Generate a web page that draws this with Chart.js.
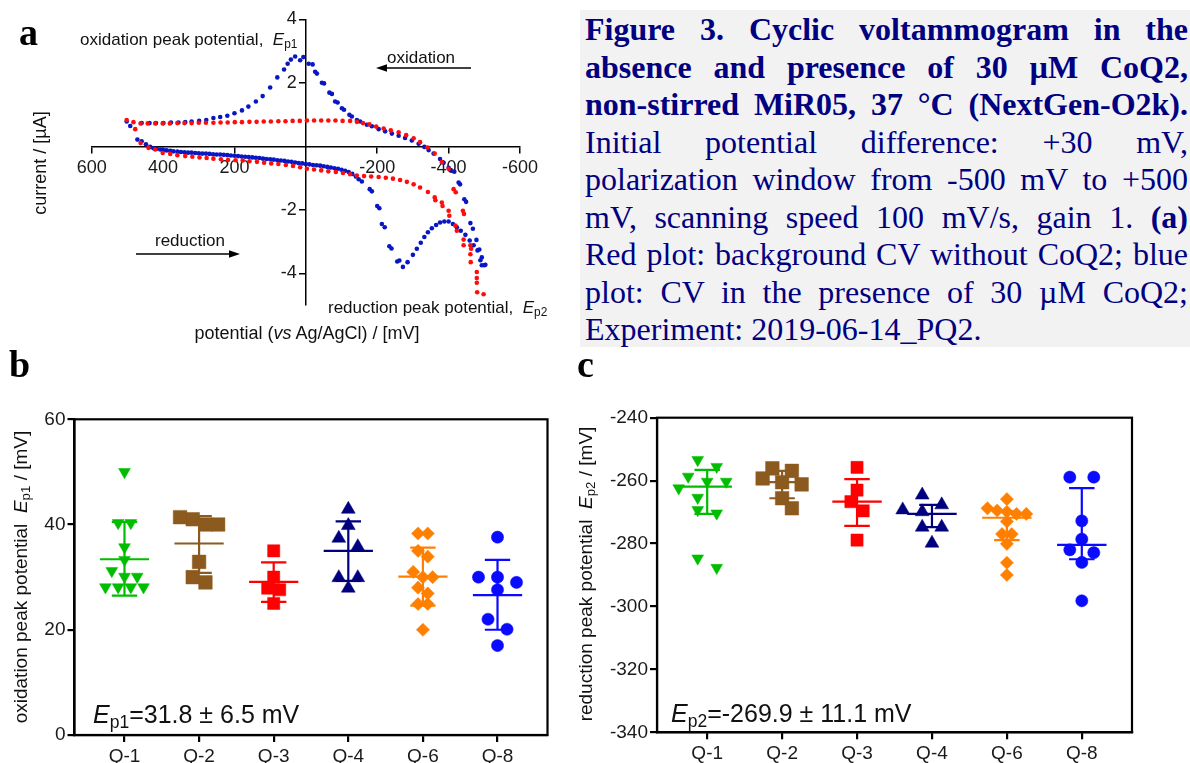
<!DOCTYPE html>
<html><head><meta charset="utf-8">
<script src="https://cdn.jsdelivr.net/npm/chart.js@4.4.0/dist/chart.umd.min.js"></script>
<style>
html,body{margin:0;padding:0;background:#fff;}
body{width:1190px;height:763px;position:relative;overflow:hidden;font-family:"Liberation Sans",Arial,sans-serif;color:#111;}
canvas{position:absolute;}
.t{position:absolute;white-space:nowrap;}
.letter{position:absolute;font-family:"Liberation Serif","DejaVu Serif",serif;font-weight:bold;font-size:38px;line-height:38px;color:#000;}
.rot{position:absolute;white-space:nowrap;transform:translate(-50%,-50%) rotate(-90deg);}
sub{font-size:70%;vertical-align:-0.28em;line-height:0;}
#caption{position:absolute;left:580px;top:10px;width:610px;height:337px;background:#f2f2f2;}
.cl{position:absolute;left:5px;width:603px;height:37.5px;line-height:37.5px;font-family:"Liberation Serif",serif;color:#000080;text-align:justify;text-align-last:justify;}
.cl.last{text-align:left;text-align-last:left;}
</style></head>
<body>
<div id="caption"></div>

<canvas id="cA" width="575" height="345" style="left:0;top:0"></canvas>
<canvas id="cB" width="575" height="418" style="left:0;top:345px"></canvas>
<canvas id="cC" width="615" height="418" style="left:575px;top:345px"></canvas>

<div class="letter" style="left:19px;top:13px">a</div>
<div class="letter" style="left:9px;top:345px">b</div>
<div class="letter" style="left:577px;top:345px">c</div>

<!-- panel a annotations -->
<div class="t" style="left:80px;top:31px;font-size:17px;line-height:17px">oxidation peak potential,&nbsp; <i>E</i><sub>p1</sub></div>
<div class="t" style="left:387px;top:49px;font-size:17px;line-height:17px">oxidation</div>
<div class="t" style="left:155px;top:232px;font-size:17px;line-height:17px">reduction</div>
<div class="t" style="left:328px;top:299px;font-size:17px;line-height:17px">reduction peak potential,&nbsp; <i>E</i><sub>p2</sub></div>
<div class="t" style="left:307px;top:324px;font-size:18px;line-height:18px;transform:translateX(-50%)">potential (<i>vs</i> Ag/AgCl) / [mV]</div>
<div class="rot" style="left:40px;top:163px;font-size:18px;line-height:18px">current / [µA]</div>
<svg style="position:absolute;left:0;top:0" width="575" height="345">
  <line x1="471" y1="68" x2="384" y2="68" stroke="#000" stroke-width="1.5"/>
  <polygon points="376,68 387,64.3 387,71.7" fill="#000"/>
  <line x1="136" y1="254" x2="232" y2="254" stroke="#000" stroke-width="1.5"/>
  <polygon points="240,254 229,250.3 229,257.7" fill="#000"/>
</svg>

<!-- panel b / c texts -->
<div class="rot" style="left:20px;top:577px;font-size:19px;line-height:19px">oxidation peak potential&nbsp; <i>E</i><sub>p1</sub> / [mV]</div>
<div class="rot" style="left:585px;top:574px;font-size:19px;line-height:19px">reduction peak potential&nbsp; <i>E</i><sub>p2</sub> / [mV]</div>
<div class="t" style="left:93px;top:702px;font-size:25px;line-height:25px"><i>E</i><sub>p1</sub>=31.8 ± 6.5 mV</div>
<div class="t" style="left:671px;top:701px;font-size:25px;line-height:25px"><i>E</i><sub>p2</sub>=-269.9 ± 11.1 mV</div>

<script>
// ---------------- data ----------------
const cvRedPotential = [502,483,463,443,422,401,381,360,340,320,300,280,259,239,219,199,179,158,138,118,98,77,57,37,17,-3,-23,-43,-63,-83,-103,-124,-143,-160,-178,-197,-218,-238,-260,-281,-302,-320,-341,-361,-381,-400,-414,-420,-440,-443,-461,-463,-479,-480,-498,
  478,463,441,422,401,380,360,338,318,298,278,259,238,218,197,177,158,137,117,97,77,56,36,16,-3,-23,-43,-63,-84,-104,-124,-143,-163,-183,-204,-224,-244,-264,-283,-302,-320,-342,-361,-363,-381,-383,-400,-402,-419,-423,-442,-442,-461,-462,-479,-479];
const cvRedCurrent = [0.83,0.76,0.72,0.72,0.72,0.72,0.72,0.73,0.73,0.73,0.74,0.74,0.74,0.75,0.75,0.76,0.76,0.77,0.77,0.78,0.78,0.79,0.79,0.80,0.80,0.81,0.81,0.81,0.81,0.81,0.80,0.80,0.77,0.73,0.69,0.62,0.56,0.50,0.44,0.35,0.25,0.13,-0.04,-0.23,-0.50,-0.71,-1.35,-1.45,-2.03,-2.13,-3.12,-3.23,-4.30,-4.60,-4.66,
  0.54,0.10,-0.05,-0.10,-0.21,-0.24,-0.28,-0.31,-0.33,-0.35,-0.37,-0.39,-0.41,-0.43,-0.44,-0.45,-0.47,-0.49,-0.52,-0.54,-0.56,-0.59,-0.62,-0.66,-0.71,-0.73,-0.76,-0.79,-0.81,-0.84,-0.88,-0.92,-0.94,-0.95,-0.97,-0.99,-1.02,-1.06,-1.12,-1.20,-1.30,-1.44,-1.61,-1.70,-1.77,-1.88,-2.03,-2.19,-2.50,-2.66,-2.94,-3.12,-3.40,-3.65,-3.96,-4.15];
const cvBluePotential = [-500,-493,-486,-478,-468,-461,-449,-444,-432,-428,-416,-406,-400,-386,-376,-358,-344,-332,-316,-297,-278,-260,-241,-222,-204,-185,-171,-152,-143,-129,-122,-107,-101,-89,-82,-73,-66,-51,-45,-31,-26,-19,-8,7,16,30,42,51,61,80,100,121,140,161,179,200,220,240,259,279,299,320,338,357,378,399,420,438,460,492,502,
  472,460,448,436,427,418,408,399,390,380,371,360,350,340,330,320,310,300,290,280,270,260,250,240,230,220,210,200,190,180,170,160,150,140,130,120,110,100,90,80,70,60,50,40,30,20,10,0,-10,-20,-30,-40,-50,-60,-70,-80,-90,-100,-110,-120,-130,-140,-148,-157,-179,-185,-200,-206,-213,-221,-234,-240,-256,-262,-272,-285,-300,-311,-322,-332,-342,-353,-365,-376,-388,-400,-412,-423,-434,-447,-459,-470,-481,-489,-493,-503];
const cvBlueCurrent = [-3.75,-3.50,-3.25,-2.95,-2.60,-2.42,-1.75,-1.67,-1.20,-1.14,-0.80,-0.75,-0.68,-0.52,-0.40,-0.23,-0.12,-0.02,0.08,0.18,0.26,0.33,0.40,0.47,0.54,0.63,0.68,0.78,0.83,0.94,0.99,1.15,1.20,1.38,1.41,1.65,1.69,1.98,2.00,2.29,2.35,2.58,2.60,2.81,2.71,2.83,2.73,2.60,2.42,2.17,1.85,1.58,1.41,1.25,1.13,1.04,0.96,0.92,0.89,0.83,0.80,0.78,0.76,0.75,0.75,0.73,0.73,0.73,0.73,0.64,0.78,
  0.21,0.16,0.06,-0.02,-0.06,-0.08,-0.10,-0.12,-0.13,-0.14,-0.16,-0.17,-0.18,-0.19,-0.20,-0.20,-0.21,-0.22,-0.23,-0.23,-0.24,-0.25,-0.26,-0.26,-0.27,-0.28,-0.29,-0.30,-0.31,-0.32,-0.33,-0.34,-0.35,-0.36,-0.37,-0.39,-0.40,-0.41,-0.42,-0.44,-0.45,-0.46,-0.48,-0.49,-0.51,-0.53,-0.54,-0.56,-0.57,-0.59,-0.60,-0.61,-0.63,-0.65,-0.67,-0.69,-0.71,-0.74,-0.77,-0.81,-0.87,-0.95,-1.04,-1.11,-1.35,-1.42,-1.88,-1.95,-2.45,-2.55,-3.15,-3.22,-3.63,-3.60,-3.80,-3.65,-3.42,-3.23,-3.04,-2.86,-2.71,-2.58,-2.48,-2.40,-2.37,-2.37,-2.45,-2.55,-2.66,-2.79,-2.97,-3.12,-3.28,-3.59,-3.75,-3.73];
const cvXTicks = [600,400,200,-200,-400,-600];
const cvYTicks = [4,2,-2,-4];

const groupLabels = ['Q-1','Q-2','Q-3','Q-4','Q-6','Q-8'];
const groupColors = ['#00bd00','#8c5a1e','#ff0000','#00007f','#ff8000','#0a0aff'];

const ep1Q1 = [50.0,40.3,40.3,35.7,33.3,31.2,30.1,30.1,28.1,28.1,28.1,28.1];
const ep1Q2 = [41.4,41.0,40.0,40.0,32.9,30.0,29.0];
const ep1Q3 = [35.0,30.0,27.9,27.6,25.0];
const ep1Q4 = [42.9,39.8,37.4,35.8,29.9,29.9,27.9];
const ep1Q6 = [38.3,38.3,35.0,33.9,31.0,30.0,30.0,28.0,26.9,24.9,24.9,20.0];
const ep1Q8 = [37.6,30.0,30.0,29.0,27.6,22.0,20.1,17.0];
const ep1Center = [33.4,36.4,29.1,35.0,30.1,26.6];
const ep1Low = [26.5,30.8,25.3,29.3,24.6,20.0];
const ep1High = [40.5,41.6,32.8,40.6,35.6,33.3];
const ep1Ticks = [0,20,40,60];

const ep2Q1 = [-253.4,-255.6,-258.7,-260.3,-260.3,-262.4,-265.4,-270.4,-269.3,-284.7,-287.7];
const ep2Q2 = [-256.1,-260.5,-256.9,-261.2,-259.3,-265.6,-268.8];
const ep2Q3 = [-255.8,-263.0,-266.7,-269.6,-278.9];
const ep2Q4 = [-264.6,-267.7,-269.3,-269.9,-274.8,-274.8,-279.9];
const ep2Q6 = [-265.9,-269.9,-268.8,-270.6,-269.5,-270.6,-273.0,-277.0,-277.0,-280.1,-286.1,-290.0];
const ep2Q8 = [-258.9,-258.9,-272.8,-278.6,-282.9,-282.0,-286.0,-298.2];
const ep2Center = [-261.9,-260.5,-266.7,-270.6,-271.8,-280.4];
const ep2Low = [-270.6,-265.6,-274.4,-274.8,-278.9,-285.0];
const ep2High = [-256.6,-256.9,-259.5,-267.7,-269.8,-262.4];
const ep2Ticks = [-340,-320,-300,-280,-260,-240];

const captionLines = [
  '<b>Figure 3. Cyclic voltammogram in the</b>',
  '<b>absence and presence of 30 µM CoQ2,</b>',
  '<b>non-stirred MiR05, 37 °C (NextGen-O2k).</b>',
  'Initial potential difference: +30 mV,',
  'polarization window from -500 mV to +500',
  'mV, scanning speed 100 mV/s, gain 1. <b>(a)</b>',
  'Red plot: background CV without CoQ2; blue',
  'plot: CV in the presence of 30 µM CoQ2;',
  'Experiment: 2019-06-14_PQ2.'
];

// ---------------- caption ----------------
(function(){
  const box = document.getElementById('caption');
  const meas = document.createElement('span');
  meas.style.cssText = 'position:absolute;visibility:hidden;white-space:nowrap;font-family:"Liberation Serif",serif;font-size:30px;';
  document.body.appendChild(meas);
  let scale = Infinity;
  captionLines.forEach((l,i)=>{ if(i===captionLines.length-1) return; meas.innerHTML=l; scale=Math.min(scale, 601/meas.getBoundingClientRect().width); });
  meas.remove();
  const fs = Math.min(32, 30*scale);
  captionLines.forEach((l,i)=>{
    const d = document.createElement('div');
    d.className = 'cl' + (i===captionLines.length-1?' last':'');
    d.style.top = (1.25 + i*37.5) + 'px';
    d.style.fontSize = fs + 'px';
    d.innerHTML = l;
    box.appendChild(d);
  });
})();

// ---------------- charts ----------------
Chart.defaults.font.family = "'Liberation Sans', Arial, sans-serif";
Chart.defaults.color = '#1a1a1a';
Chart.defaults.animation = false;

// shift the labels of a centred y axis to the left of its tick marks
const yLabelShift = { id:'yLabelShift', beforeDraw(chart){
  const s = chart.scales.y;
  s.getLabelItems().forEach(it=>{ if(!it._shifted){ it.options.translation[0] -= 9; it._shifted = true; } });
}};

// panel a
new Chart(document.getElementById('cA'), {
  type: 'scatter',
  data: { datasets: [
    { data: cvRedPotential.map((v,i)=>({x:v,y:cvRedCurrent[i]})), backgroundColor:'#ff0d0d', pointRadius:2.3, borderWidth:0 },
    { data: cvBluePotential.map((v,i)=>({x:v,y:cvBlueCurrent[i]})), backgroundColor:'#0816c4', pointRadius:2.3, borderWidth:0 }
  ]},
  options: {
    responsive:false, maintainAspectRatio:false,
    layout:{ padding:{ left:91.7, right:55, top:19.3, bottom:40 } },
    plugins:{ legend:{display:false}, tooltip:{enabled:false} },
    scales:{
      x:{ type:'linear', min:-600, max:600, reverse:true, position:{y:0},
        afterBuildTicks:s=>{ s.ticks = cvXTicks.map(v=>({value:v})); },
        afterFit:s=>{ s.height = 0; },
        ticks:{ font:{size:18}, padding:5, color:'#1a1a1a', maxRotation:0, autoSkip:false },
        grid:{ drawOnChartArea:false, drawTicks:true, tickLength:6, color:'#000', lineWidth:1.5 },
        border:{ display:true, color:'#000', width:1.5 } },
      y:{ type:'linear', min:-5, max:4, position:{x:0},
        afterBuildTicks:s=>{ s.ticks = cvYTicks.map(v=>({value:v})); },
        afterFit:s=>{ s.width = 0; },
        ticks:{ font:{size:18}, padding:3, color:'#1a1a1a', autoSkip:false },
        grid:{ drawOnChartArea:false, drawTicks:true, tickLength:6, color:'#000', lineWidth:1.5 },
        border:{ display:true, color:'#000', width:1.5 } }
    }
  },
  plugins:[yLabelShift]
});

// beeswarm layout
function swarmPositions(chart, groups, spacing) {
  const ys = chart.scales.y, xs = chart.scales.x;
  const pxPerX = Math.abs(xs.getPixelForValue(1) - xs.getPixelForValue(0));
  return groups.map((vals, gi) => {
    const s = spacing[gi];
    const tol = Math.min(0.8*s, 10);
    const minD = Math.min(0.95*s, 12);
    const py = vals.map(v => ys.getPixelForValue(v));
    const order = vals.map((v,i)=>i).sort((a,b)=>py[a]-py[b]);
    const rows = [];
    order.forEach(i=>{
      const last = rows[rows.length-1];
      if (last && Math.abs(py[i]-py[last[0]]) < tol) last.push(i); else rows.push([i]);
    });
    rows.sort((a,b)=>b.length-a.length);
    const placed = []; const off = new Array(vals.length).fill(0);
    rows.forEach(row=>{
      const n=row.length; let best=null;
      for (const sh of [0,0.5,-0.5,1,-1,1.5,-1.5,2,-2,2.5,-2.5]) {
        const cand = row.map((i,k)=>(k-(n-1)/2+sh)*s);
        const ok = row.every((i,k)=>placed.every(p=>Math.hypot(p.dx-cand[k], p.py-py[i]) >= minD));
        if (ok) { best=cand; break; }
      }
      if (!best) best = row.map((i,k)=>(k-(n-1)/2)*s);
      row.forEach((i,k)=>{ off[i]=best[k]; placed.push({dx:best[k], py:py[i]}); });
    });
    return vals.map((v,i)=>({x: gi + off[i]/pxPerX, y: v}));
  });
}

function barsPlugin(center, low, high) {
  return { id:'bars', afterDatasetsDraw(chart){
    const {ctx, scales:{x,y}} = chart;
    center.forEach((c,i)=>{
      const px = x.getPixelForValue(i);
      const half = x.getPixelForValue(i+0.33)-px, cap = x.getPixelForValue(i+0.17)-px;
      const yc=y.getPixelForValue(c), yl=y.getPixelForValue(low[i]), yh=y.getPixelForValue(high[i]);
      ctx.save(); ctx.strokeStyle=groupColors[i]; ctx.lineWidth=2.2; ctx.lineCap='butt';
      ctx.beginPath();
      ctx.moveTo(px-half,yc); ctx.lineTo(px+half,yc);
      ctx.moveTo(px,yl); ctx.lineTo(px,yh);
      ctx.moveTo(px-cap,yl); ctx.lineTo(px+cap,yl);
      ctx.moveTo(px-cap,yh); ctx.lineTo(px+cap,yh);
      ctx.stroke(); ctx.restore();
    });
  }};
}
const framePlugin = { id:'frame', afterDraw(chart){
  const {ctx, chartArea:a} = chart;
  ctx.save(); ctx.strokeStyle='#000'; ctx.lineWidth=2.2;
  ctx.strokeRect(a.left, a.top, a.right-a.left, a.bottom-a.top); ctx.restore();
}};

const pointStyles = ['triangle','rect','rect','triangle','rectRot','circle'];
const pointRot = [180,0,0,0,0,0];
const pointRad = [6.8,9.6,8.6,8.0,6.6,6.1];

function makeDotChart(canvasId, groups, ticks, center, low, high, pad, yWidth, xHeight, spacing) {
  const chart = new Chart(document.getElementById(canvasId), {
    type:'scatter',
    data:{ datasets: groups.map((vals,gi)=>({
      data: vals.map(v=>({x:gi,y:v})),
      pointStyle: pointStyles[gi], rotation: pointRot[gi], pointRadius: pointRad[gi],
      backgroundColor: groupColors[gi], borderColor: groupColors[gi], borderWidth:0.5
    }))},
    options:{
      responsive:false, maintainAspectRatio:false,
      layout:{ padding: pad },
      plugins:{ legend:{display:false}, tooltip:{enabled:false} },
      scales:{
        x:{ type:'linear', min:-0.67, max:5.67,
          afterBuildTicks:s=>{ s.ticks = groupLabels.map((l,i)=>({value:i})); },
          afterFit:s=>{ s.height = xHeight; },
          ticks:{ font:{size:19}, padding:3, color:'#1a1a1a', callback:(v)=>groupLabels[v], maxRotation:0, autoSkip:false },
          grid:{ drawOnChartArea:false, drawTicks:true, tickLength:7, color:'#000', lineWidth:2.2 },
          border:{ display:true, color:'#000', width:2.2 } },
        y:{ type:'linear', min:ticks[0], max:ticks[ticks.length-1],
          afterBuildTicks:s=>{ s.ticks = ticks.map(v=>({value:v})); },
          afterFit:s=>{ s.width = yWidth; },
          ticks:{ font:{size:19}, padding:2, color:'#1a1a1a', autoSkip:false },
          grid:{ drawOnChartArea:false, drawTicks:true, tickLength:7, color:'#000', lineWidth:2.2 },
          border:{ display:true, color:'#000', width:2.2 } }
      }
    },
    plugins:[barsPlugin(center, low, high), framePlugin]
  });
  const pos = swarmPositions(chart, groups, spacing);
  pos.forEach((d,gi)=>{ chart.data.datasets[gi].data = d; });
  chart.update('none');
  return chart;
}

makeDotChart('cB', [ep1Q1,ep1Q2,ep1Q3,ep1Q4,ep1Q6,ep1Q8], ep1Ticks, ep1Center, ep1Low, ep1High,
  {left:0, right:27.5, top:74.3, bottom:0}, 74.5, 28, [12.7,12.7,12,19,9.7,19]);
makeDotChart('cC', [ep2Q1,ep2Q2,ep2Q3,ep2Q4,ep2Q6,ep2Q8], ep2Ticks, ep2Center, ep2Low, ep2High,
  {left:0, right:58, top:72.7, bottom:0}, 82, 30.7, [19,19.5,12.3,19.5,9.7,24]);
</script>
</body></html>
